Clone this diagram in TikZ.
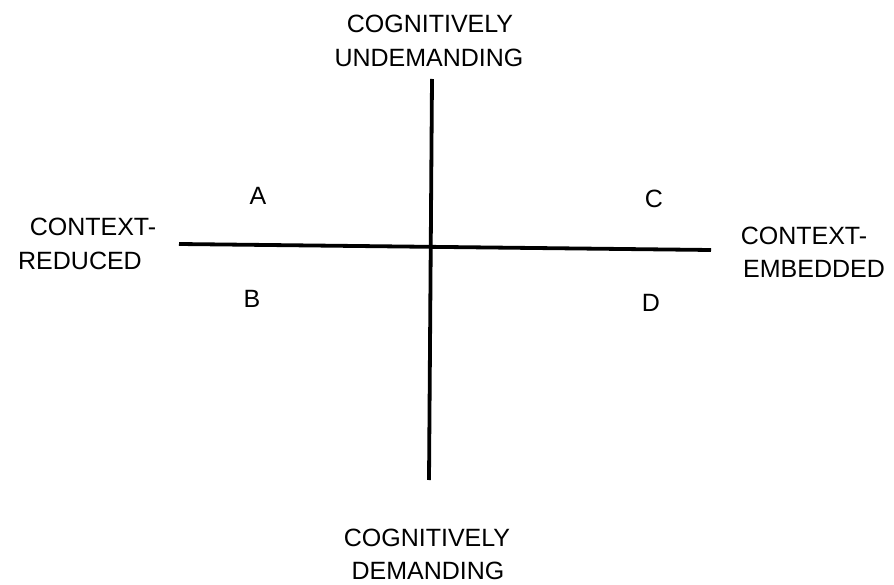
\documentclass[tikz,border=0pt]{standalone}
\usepackage{fontspec}
\setmainfont{Liberation Sans}
\begin{document}
\begin{tikzpicture}[x=1pt,y=-1pt,
  lbl/.style={inner sep=0pt,anchor=base,font=\fontsize{25}{25}\selectfont},
  axis/.style={line width=3.8pt}]
\useasboundingbox (0,0) rectangle (894,585);
% axis endpoints
\coordinate (vt) at (432,79);
\coordinate (vb) at (429,480);
\coordinate (hl) at (179,244);
\coordinate (hr) at (711,250);
\draw[axis] (vt) -- (vb);
\draw[axis] (hl) -- (hr);
% labels
\node[lbl] (t1) at (430,33) {COGNITIVELY};
\node[lbl] (t2) at (429,67) {UNDEMANDING};
\node[lbl] (l1) at (93,236) {CONTEXT-};
\node[lbl] (l2) at (80,270) {REDUCED};
\node[lbl] (r1) at (804,245) {CONTEXT-};
\node[lbl] (r2) at (814,278) {EMBEDDED};
\node[lbl] (b1) at (427,546) {COGNITIVELY};
\node[lbl] (b2) at (428,579) {DEMANDING};
% quadrant letters
\node[lbl] (qa) at (258,205) {A};
\node[lbl] (qb) at (252,308) {B};
\node[lbl] (qc) at (654,208) {C};
\node[lbl] (qd) at (651,312) {D};
\end{tikzpicture}
\end{document}
